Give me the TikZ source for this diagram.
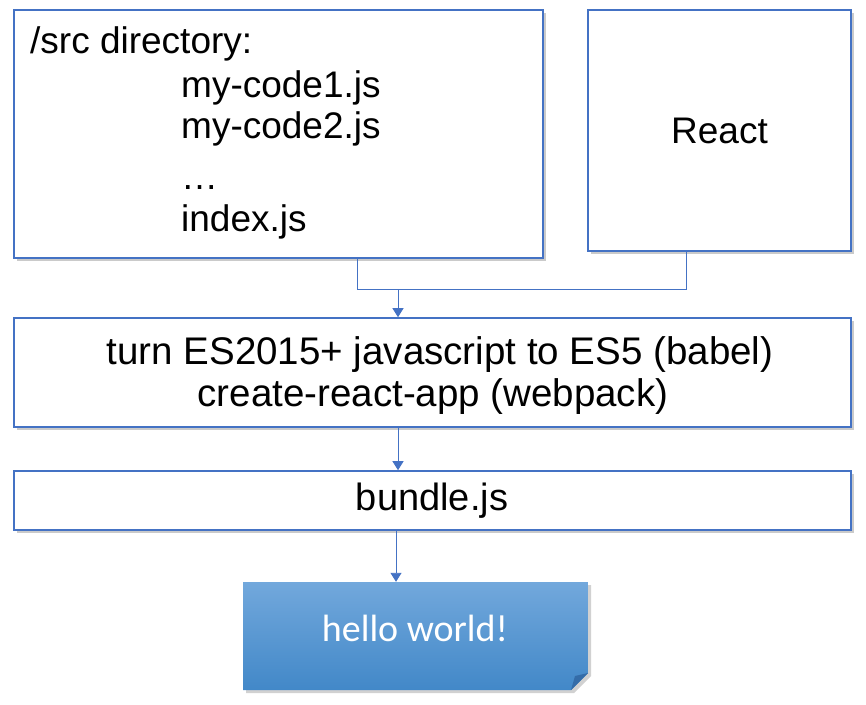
\documentclass[tikz,border=0pt]{standalone}
\usepackage{fontspec}
\setmainfont{Liberation Sans}
\newfontfamily\calib{Carlito}
\usetikzlibrary{shadows,arrows.meta,calc}
\definecolor{obl}{RGB}{68,114,196}
\definecolor{gtop}{RGB}{114,168,220}
\definecolor{gbot}{RGB}{66,136,200}
\definecolor{gfold}{RGB}{52,108,168}
\tikzset{
  boxnode/.style={draw=obl, line width=1.6pt, fill=white, inner sep=0pt,
    drop shadow={shadow xshift=3pt, shadow yshift=-3pt, opacity=0.35, fill=black!60}},
  txt/.style={font=\fontsize{37}{44}\selectfont, inner sep=0pt},
  conn/.style={draw=obl, line width=0.9pt},
  arr/.style={conn, -{Triangle[width=11pt,length=9pt]}}
}
\begin{document}
\begin{tikzpicture}[x=1pt,y=-1pt]
\useasboundingbox (0,0) rectangle (866,704);
% boxes
\node[boxnode, minimum width=529pt, minimum height=248pt] (src) at (278.5,134) {};
\node[boxnode, minimum width=263pt, minimum height=241pt] (react) at (719.5,130.5) {};
\node[boxnode, minimum width=837pt, minimum height=109pt] (mid) at (432.5,372.5) {};
\node[boxnode, minimum width=837pt, minimum height=59pt] (bundle) at (432.5,500.5) {};
% hello world box with folded corner
\fill[black!60, opacity=0.3] (246,585) -- (591,585) -- (591,676) -- (574,693) -- (246,693) -- cycle;
\shade[top color=gtop, bottom color=gbot] (243,582) -- (588,582) -- (588,673) -- (571,690) -- (243,690) -- cycle;
\fill[gfold] (571,690) -- (575,676) -- (588,673) -- cycle;
\node[inner sep=0pt, minimum width=345pt, minimum height=108pt] (hello) at (415.5,636) {};
\node[font=\calib\fontsize{38}{40}\selectfont, text=white, inner sep=0pt] (hellotxt) at (415,628) {hello world!};
% text in src
\node[txt, anchor=base west] (t1) at (30,53) {/src directory:};
\node[txt, anchor=base west] (t2) at (181,97) {my-code1.js};
\node[txt, anchor=base west] (t3) at (181,138) {my-code2.js};
\node[txt, anchor=base west] (t4) at (181,189) {\ldots};
\node[txt, anchor=base west] (t5) at (181,231) {index.js};
\node[txt] (treact) at (react.center) {React};
\node[txt, align=center, font=\fontsize{38.5}{42}\selectfont] (tmid) at (433,376) {\hspace*{14pt}turn ES2015+ javascript to ES5 (babel)\\create-react-app (webpack)};
\node[txt, font=\fontsize{38}{42}\selectfont] (tbundle) at (432,501) {bundle.js};
% connectors
\coordinate (j) at (398,289);
\draw[conn] (src.south -| 357,0) |- (j);
\draw[conn] (react.south -| 686,0) |- (j);
\draw[arr] (j) -- (j |- mid.north);
\draw[arr] (mid.south -| 398,0) -- (bundle.north -| 398,0);
\draw[arr] (bundle.south -| 396,0) -- (hello.north -| 396,0);
\end{tikzpicture}
\end{document}
